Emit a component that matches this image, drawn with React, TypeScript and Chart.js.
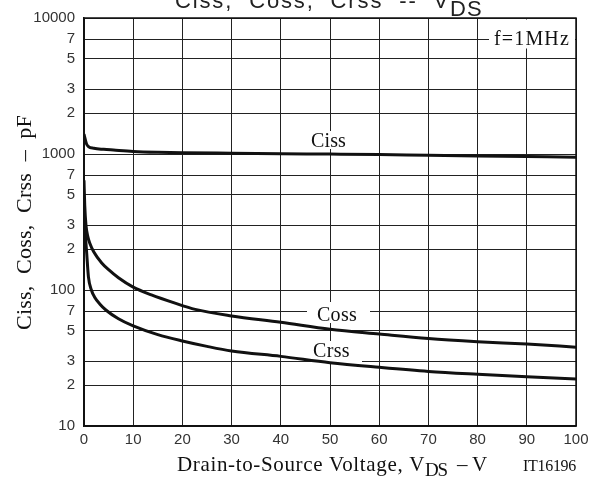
import { useEffect, useRef } from "react";
import { Chart, registerables } from "chart.js";

Chart.register(...registerables);

// ---- data ----
const xTickValues = [0, 10, 20, 30, 40, 50, 60, 70, 80, 90, 100];
const yTickValues = [10, 20, 30, 50, 70, 100, 200, 300, 500, 700, 1000, 2000, 3000, 5000, 7000, 10000];
const yTickLabels = ["10", "2", "3", "5", "7", "100", "2", "3", "5", "7", "1000", "2", "3", "5", "7", "10000"];

const cissVds = [0, 0.5, 0.9, 2, 4, 6, 10, 15, 20, 30, 40, 50, 60, 70, 80, 90, 100];
const cissPF = [1400, 1190, 1135, 1102, 1082, 1069, 1045, 1030, 1022, 1013, 1005, 998, 990, 978, 968, 958, 948];

const cossVds = [0, 0.15, 0.4, 0.8, 1.2, 2, 3.6, 5, 7, 10, 13.7, 18.5, 22.6, 30, 40, 50, 60, 70, 80, 90, 100];
const cossPF = [640, 420, 300, 245, 220, 190, 158, 141, 123, 105, 92, 80, 72, 64.5, 58, 51.5, 47.5, 44, 41.7, 40, 38];

const crssVds = [0, 0.2, 0.55, 0.9, 1.5, 2.2, 3.2, 4.5, 7, 10, 15, 20, 25, 30, 40, 50, 60, 70, 80, 90, 100];
const crssPF = [400, 280, 186, 125, 100, 88, 79, 71, 61.5, 54.5, 47, 42.2, 38.5, 35.6, 32.5, 29.2, 27, 25.2, 24, 23, 22.2];

const titleMain = "Ciss,  Coss,  Crss  --  V";
const titleSub = "DS";
const xTitleMain = "Drain-to-Source Voltage, V";
const xTitleSub = "DS";
const xTitleDash = "–";
const xTitleUnit = "V";
const yTitle = "Ciss,  Coss,  Crss  –  pF";
const figureId = "IT16196";
const freqLabel = "f=1MHz";
const curveLabels = ["Ciss", "Coss", "Crss"];

const SANS = "'Liberation Sans', Arial, Helvetica, sans-serif";
const SERIF = "'Liberation Serif', 'Times New Roman', Times, serif";

function fitText(ctx: any, text: string, x: number, y: number, width: number) {
  ctx.letterSpacing = "0px";
  const w = ctx.measureText(text).width;
  const ls = (width - w) / text.length;
  if ("letterSpacing" in ctx) ctx.letterSpacing = ls.toFixed(2) + "px";
  ctx.fillText(text, x, y);
  ctx.letterSpacing = "0px";
}

const decorPlugin = {
  id: "decor",
  beforeDatasetsDraw(chart: any) {
    const ctx = chart.ctx;
    ctx.save();
    ctx.fillStyle = "#ffffff";
    ctx.fillRect(489, 19.5, 86, 29);
    ctx.fillRect(308, 131, 42, 18);
    ctx.fillRect(307, 302, 63, 21);
    ctx.fillRect(311, 341, 51, 23);
    ctx.restore();
  },
  afterDraw(chart: any) {
    const ctx = chart.ctx;
    const a = chart.chartArea;
    ctx.save();
    ctx.strokeStyle = "#111";
    ctx.lineWidth = 1.5;
    ctx.strokeRect(a.left, a.top, a.right - a.left, a.bottom - a.top);

    ctx.textAlign = "left";
    ctx.textBaseline = "alphabetic";

    // top title
    ctx.fillStyle = "#222";
    ctx.font = `22px ${SANS}`;
    fitText(ctx, titleMain, 175, 8, 275);
    fitText(ctx, titleSub, 450, 16, 33);

    // x title
    ctx.fillStyle = "#111";
    ctx.font = `21px ${SERIF}`;
    fitText(ctx, xTitleMain, 177, 471, 248);
    ctx.font = `19px ${SERIF}`;
    fitText(ctx, xTitleSub, 425, 476, 22);
    ctx.font = `21px ${SERIF}`;
    ctx.fillText(xTitleDash, 457, 471);
    ctx.fillText(xTitleUnit, 472, 471);

    // figure id
    ctx.font = `16px ${SERIF}`;
    fitText(ctx, figureId, 523, 471, 53);

    // y title
    ctx.save();
    ctx.translate(31, 330);
    ctx.rotate(-Math.PI / 2);
    ctx.font = `22px ${SERIF}`;
    fitText(ctx, yTitle, 0, 0, 215);
    ctx.restore();

    // in-plot labels
    ctx.font = `20px ${SERIF}`;
    fitText(ctx, freqLabel, 494, 45, 76);
    fitText(ctx, curveLabels[0], 311, 147, 35);
    fitText(ctx, curveLabels[1], 317, 321, 40);
    fitText(ctx, curveLabels[2], 313, 357, 37);
    ctx.restore();
  },
};

function toPoints(xs: number[], ys: number[]) {
  return xs.map((x, i) => ({ x, y: ys[i] }));
}

export default function App() {
  const ref = useRef<HTMLCanvasElement | null>(null);
  useEffect(() => {
    if (!ref.current) return;
    const lineStyle = {
      borderColor: "#111",
      borderWidth: 3,
      pointRadius: 0,
      fill: false,
      cubicInterpolationMode: "monotone" as const,
    };
    const chart = new Chart(ref.current, {
      type: "line",
      data: {
        datasets: [
          { label: curveLabels[0], data: toPoints(cissVds, cissPF), ...lineStyle },
          { label: curveLabels[1], data: toPoints(cossVds, cossPF), ...lineStyle },
          { label: curveLabels[2], data: toPoints(crssVds, crssPF), ...lineStyle },
        ],
      },
      options: {
        animation: false,
        responsive: false,
        devicePixelRatio: 1,
        layout: { padding: { left: 0, right: 25, top: 18, bottom: 0 } },
        plugins: { legend: { display: false }, tooltip: { enabled: false }, title: { display: false } },
        scales: {
          x: {
            type: "linear",
            min: 0,
            max: 100,
            afterBuildTicks: (s: any) => {
              s.ticks = xTickValues.map((v) => ({ value: v }));
            },
            afterFit: (s: any) => {
              s.height = 51;
            },
            ticks: {
              autoSkip: false,
              maxRotation: 0,
              padding: 5,
              color: "#333",
              font: { family: SANS, size: 15 },
              callback: (v: any) => String(v),
            },
            grid: { color: "#222", lineWidth: 1, drawTicks: false },
            border: { color: "#111", width: 1.5 },
          },
          y: {
            type: "logarithmic",
            min: 10,
            max: 10000,
            afterBuildTicks: (s: any) => {
              s.ticks = yTickValues.map((v) => ({ value: v }));
            },
            afterFit: (s: any) => {
              s.width = 84;
            },
            ticks: {
              autoSkip: false,
              padding: 9,
              color: "#333",
              font: { family: SANS, size: 15 },
              callback: (_v: any, i: number) => yTickLabels[i],
            },
            grid: { color: "#222", lineWidth: 1, drawTicks: false },
            border: { color: "#111", width: 1.5 },
          },
        },
      },
      plugins: [decorPlugin],
    });
    return () => chart.destroy();
  }, []);
  return (
    <div style={{ position: "absolute", left: 0, top: 0, width: 601, height: 477, background: "#fff" }}>
      <canvas ref={ref} width={601} height={477} />
    </div>
  );
}
